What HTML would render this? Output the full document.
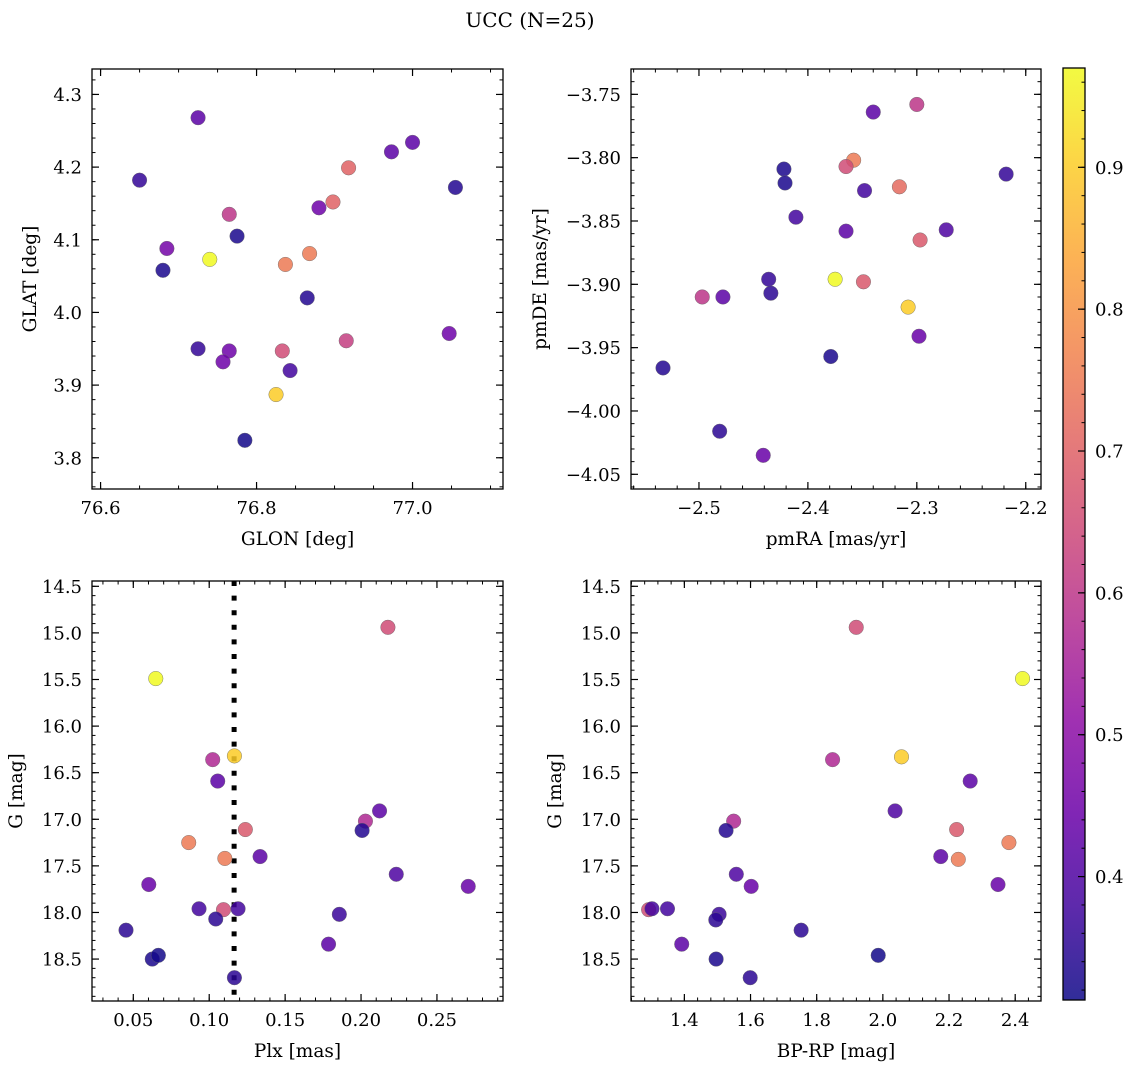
<!DOCTYPE html>
<html><head><meta charset="utf-8">
<style>
html,body{margin:0;padding:0;background:#fff;}
svg{display:block;font-family:"DejaVu Serif","Liberation Serif",serif;}
</style></head>
<body>
<svg id="fig" width="1136" height="1068" viewBox="0 0 1136 1068" xmlns="http://www.w3.org/2000/svg">
<text x="530" y="27" font-size="20" text-anchor="middle">UCC (N=25)</text>
</svg>
<script>
// Panel 1: GLON / GLAT
const glon = [76.65,76.725,76.685,76.68,76.74,76.765,76.775,76.725,76.765,76.757,76.785,76.825,76.833,76.843,76.837,76.868,76.865,76.88,76.898,76.918,76.915,76.973,77.0,77.055,77.047];
const glat = [4.182,4.268,4.088,4.058,4.073,4.135,4.105,3.950,3.947,3.932,3.824,3.887,3.947,3.920,4.066,4.081,4.020,4.144,4.152,4.199,3.961,4.221,4.234,4.172,3.971];
const probA = [0.36,0.42,0.46,0.33,0.97,0.60,0.33,0.36,0.45,0.45,0.32,0.90,0.65,0.38,0.75,0.75,0.34,0.45,0.70,0.70,0.62,0.42,0.42,0.34,0.45];
// Panel 2: pmRA / pmDE
const pmra = [-2.34,-2.30,-2.358,-2.365,-2.422,-2.421,-2.348,-2.316,-2.218,-2.411,-2.365,-2.273,-2.297,-2.436,-2.434,-2.375,-2.349,-2.497,-2.478,-2.308,-2.298,-2.379,-2.533,-2.481,-2.441];
const pmde = [-3.764,-3.758,-3.802,-3.807,-3.809,-3.820,-3.826,-3.823,-3.813,-3.847,-3.858,-3.857,-3.865,-3.896,-3.907,-3.896,-3.898,-3.910,-3.910,-3.918,-3.941,-3.957,-3.966,-4.016,-4.035];
const probB = [0.42,0.60,0.75,0.65,0.33,0.33,0.38,0.72,0.36,0.38,0.42,0.40,0.68,0.36,0.35,0.97,0.68,0.60,0.42,0.90,0.44,0.33,0.34,0.35,0.44];
// Panel 3: Plx / G
const plx = [0.0648,0.2177,0.1166,0.1023,0.1056,0.2122,0.2029,0.2007,0.1238,0.0865,0.1103,0.1335,0.2232,0.2706,0.0602,0.0933,0.1094,0.1190,0.1043,0.1857,0.0452,0.1786,0.0625,0.0665,0.1166];
const gmagC = [15.49,14.94,16.32,16.36,16.59,16.91,17.02,17.12,17.11,17.25,17.42,17.40,17.59,17.72,17.70,17.96,17.97,17.96,18.07,18.02,18.19,18.34,18.50,18.46,18.70];
const probC = [0.97,0.65,0.90,0.57,0.42,0.42,0.57,0.34,0.68,0.75,0.75,0.42,0.40,0.44,0.44,0.38,0.65,0.38,0.35,0.37,0.35,0.42,0.33,0.32,0.35];
const plxMedian = 0.1164;
// Panel 4: BP-RP / G
const bprp = [1.9195,2.4222,1.848,2.0563,2.264,2.037,1.549,1.526,2.223,2.381,2.175,2.228,1.557,1.602,2.348,1.292,1.302,1.349,1.505,1.495,1.753,1.392,1.496,1.986,1.599];
const gmagD = [14.94,15.49,16.36,16.33,16.59,16.91,17.02,17.12,17.11,17.25,17.40,17.43,17.59,17.72,17.70,17.97,17.96,17.96,18.02,18.08,18.19,18.34,18.50,18.46,18.70];
const probD = [0.65,0.97,0.57,0.90,0.42,0.40,0.57,0.34,0.68,0.75,0.42,0.75,0.40,0.44,0.44,0.65,0.38,0.38,0.37,0.35,0.35,0.42,0.33,0.32,0.35];
// tick labels
const ticksA_x = [76.6,76.8,77.0], ticksA_y = [3.8,3.9,4.0,4.1,4.2,4.3];
const ticksB_x = [-2.5,-2.4,-2.3,-2.2], ticksB_y = [-4.05,-4.00,-3.95,-3.90,-3.85,-3.80,-3.75];
const ticksC_x = [0.05,0.10,0.15,0.20,0.25], ticksG = [14.5,15.0,15.5,16.0,16.5,17.0,17.5,18.0,18.5];
const ticksD_x = [1.4,1.6,1.8,2.0,2.2,2.4];
const cbTicks = [0.4,0.5,0.6,0.7,0.8,0.9];
const vmin = 0.313, vmax = 0.97;

const NS = "http://www.w3.org/2000/svg";
const svg = document.getElementById('fig');
const FS = 18;
function mk(tag, attrs, parent){const e=document.createElementNS(NS,tag);for(const k in attrs)e.setAttribute(k,attrs[k]);(parent||svg).appendChild(e);return e;}
const plasma=[[13,8,135],[65,4,157],[106,0,168],[143,13,164],[177,42,144],[204,71,120],[225,100,98],[242,132,75],[252,166,54],[252,206,37],[240,249,33]];
function cmap(v){let t=(v-vmin)/(vmax-vmin);t=Math.max(0,Math.min(1,t))*10;const i=Math.min(9,Math.floor(t)),f=t-i;const a=plasma[i],b=plasma[i+1];return `rgb(${a.map((c,k)=>Math.round(c+(b[k]-c)*f)).join(',')})`;}
function fmt(v,d){return (v<0?'\u2212':'')+Math.abs(v).toFixed(d);}

function panel(o){
  const g=mk('g',{});
  
  
  const sx=v=>o.L+(v-o.x0)/(o.x1-o.x0)*(o.R-o.L);
  const sy=v=>o.invert? o.T+(v-o.y0)/(o.y1-o.y0)*(o.B-o.T) : o.B-(v-o.y0)/(o.y1-o.y0)*(o.B-o.T);
  const mt=(a0,a1,step,cb)=>{const s=Math.ceil(a0/step-1e-9);for(let k=s;k*step<=a1+1e-9;k++)cb(k*step);};
  mt(o.x0,o.x1,o.xminor,v=>{const x=sx(v);mk('line',{x1:x,x2:x,y1:o.B,y2:o.B-3.5,stroke:'#000','stroke-width':1},g);mk('line',{x1:x,x2:x,y1:o.T,y2:o.T+3.5,stroke:'#000','stroke-width':1},g);});
  mt(Math.min(o.y0,o.y1),Math.max(o.y0,o.y1),o.yminor,v=>{const y=sy(v);mk('line',{x1:o.L,x2:o.L+3.5,y1:y,y2:y,stroke:'#000','stroke-width':1},g);mk('line',{x1:o.R,x2:o.R-3.5,y1:y,y2:y,stroke:'#000','stroke-width':1},g);});
  o.xt.forEach(v=>{const x=sx(v);mk('line',{x1:x,x2:x,y1:o.B,y2:o.B-7,stroke:'#000','stroke-width':1.2},g);mk('line',{x1:x,x2:x,y1:o.T,y2:o.T+7,stroke:'#000','stroke-width':1.2},g);
    const t=mk('text',{x:x,y:o.B+25,'font-size':FS,'text-anchor':'middle'},g);t.textContent=fmt(v,o.xd);
    
    });
  o.yt.forEach(v=>{const y=sy(v);mk('line',{x1:o.L,x2:o.L+7,y1:y,y2:y,stroke:'#000','stroke-width':1.2},g);mk('line',{x1:o.R,x2:o.R-7,y1:y,y2:y,stroke:'#000','stroke-width':1.2},g);
    const t=mk('text',{x:o.L-10,y:y+6.5,'font-size':FS,'text-anchor':'end'},g);t.textContent=fmt(v,o.yd);
    
    });
  if(o.vline!==undefined){const x=sx(o.vline);const l=mk('line',{x1:x,x2:x,y1:o.T,y2:o.B,stroke:'#000','stroke-width':5,'stroke-dasharray':'5 9.6'},g);
    
    }
  o.xs.forEach((v,i)=>{const c=mk('circle',{cx:sx(v),cy:sy(o.ys[i]),r:7.3,fill:cmap(o.p[i]),'fill-opacity':0.85,stroke:'#666','stroke-width':0.4},g);
    
    });
  const fr=mk('rect',{x:o.L,y:o.T,width:o.R-o.L,height:o.B-o.T,fill:'none',stroke:'#000','stroke-width':1.3},g);
  
  
  const xl=mk('text',{x:(o.L+o.R)/2,y:o.B+56,'font-size':18.5,'text-anchor':'middle'},g);xl.textContent=o.xlabel;
  
  
  const yx=o.ylx, yy=(o.T+o.B)/2;
  const yl=mk('text',{x:yx,y:yy,'font-size':18.5,'text-anchor':'middle',transform:`rotate(-90 ${yx} ${yy})`},g);yl.textContent=o.ylabel;
  
  
}
panel({name:'glon-glat-panel',L:92,R:503,T:69,B:489,x0:76.589,x1:77.116,y0:3.757,y1:4.335,xminor:0.05,yminor:0.02,xt:ticksA_x,yt:ticksA_y,xd:1,yd:1,xs:glon,ys:glat,p:probA,xlabel:'GLON [deg]',ylabel:'GLAT [deg]',ylx:36});
panel({name:'pm-panel',L:631,R:1041,T:69,B:489,x0:-2.5624,x1:-2.186,y0:-4.0616,y1:-3.730,xminor:0.02,yminor:0.01,xt:ticksB_x,yt:ticksB_y,xd:1,yd:2,xs:pmra,ys:pmde,p:probB,xlabel:'pmRA [mas/yr]',ylabel:'pmDE [mas/yr]',ylx:546});
panel({name:'plx-g-panel',L:92,R:503,T:581,B:1001,x0:0.0228,x1:0.2935,y0:14.443,y1:18.950,invert:true,xminor:0.01,yminor:0.1,xt:ticksC_x,yt:ticksG,xd:2,yd:1,xs:plx,ys:gmagC,p:probC,vline:plxMedian,xlabel:'Plx [mas]',ylabel:'G [mag]',ylx:22});
panel({name:'cmd-panel',L:631,R:1041,T:581,B:1001,x0:1.2387,x1:2.478,y0:14.443,y1:18.950,invert:true,xminor:0.04,yminor:0.1,xt:ticksD_x,yt:ticksG,xd:1,yd:1,xs:bprp,ys:gmagD,p:probD,xlabel:'BP-RP [mag]',ylabel:'G [mag]',ylx:561});

// colorbar
const cb=mk('g',{});


const CT=68,CB=1000,CL=1063,CR=1085;
const defs=mk('defs',{},cb);
const grad=mk('linearGradient',{id:'cbg',x1:0,y1:1,x2:0,y2:0},defs);
for(let k=0;k<=20;k++){const v=vmin+(vmax-vmin)*k/20;mk('stop',{offset:k/20,'stop-color':cmap(v),'stop-opacity':0.85},grad);}
mk('rect',{x:CL,y:CT,width:CR-CL,height:CB-CT,fill:'url(#cbg)'},cb);
const cy=v=>CB-(v-vmin)/(vmax-vmin)*(CB-CT);
for(let k=16;k<=48;k++){const v=k*0.02;if(v<vmin||v>vmax)continue;const y=cy(v);mk('line',{x1:CR,x2:CR-3.5,y1:y,y2:y,stroke:'#000','stroke-width':1},cb);}
cbTicks.forEach(v=>{const y=cy(v);mk('line',{x1:CR,x2:CR-7,y1:y,y2:y,stroke:'#000','stroke-width':1.2},cb);
  const t=mk('text',{x:CR+10,y:y+6.5,'font-size':FS},cb);t.textContent=v.toFixed(1);
  
  });
mk('rect',{x:CL,y:CT,width:CR-CL,height:CB-CT,fill:'none',stroke:'#000','stroke-width':1.3},cb);
</script>
</body></html>
